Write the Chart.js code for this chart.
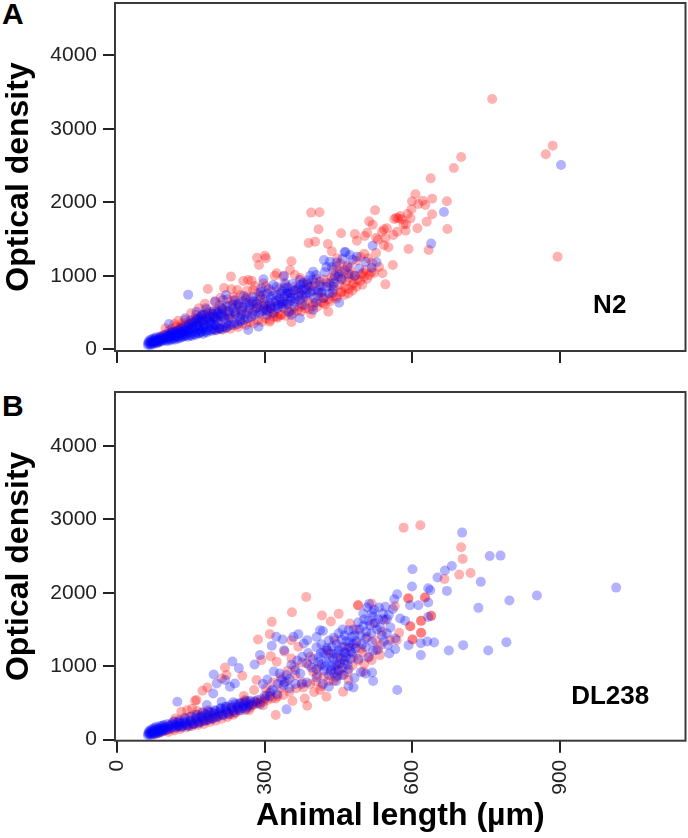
<!DOCTYPE html>
<html><head><meta charset="utf-8">
<script src="https://cdn.jsdelivr.net/npm/chart.js@4/dist/chart.umd.min.js"></script>
<style>html,body{margin:0;padding:0;background:#fff;width:688px;height:838px;overflow:hidden}
canvas{position:absolute;left:0}
.p{position:absolute;left:2px;font:bold 30px "Liberation Sans",Arial,sans-serif;color:#000;line-height:30px}</style>
</head><body>
<div class="p" style="top:-1px">A</div>
<div class="p" style="top:391px">B</div>
<canvas id="a" width="688" height="372" style="top:0"></canvas>
<canvas id="b" width="688" height="458" style="top:380px"></canvas>
<script>
const xTicks=[0,300,600,900];
const yTicks=[0,1000,2000,3000,4000];
const xTitle="Animal length (µm)";
const yTitle="Optical density";
const n2Label="N2", dl238Label="DL238";

const n2Red=[[762,3406],[885,2771],[871,2653],[895,1261],[671,1637],[670,2014],[699,2617],[684,2467],[394,1860],[411,1864],[409,1633],[389,1447],[402,1465],[455,1578],[428,1433],[436,1333],[483,1569],[487,1478],[503,1542],[508,1587],[512,1741],[519,1696],[524,1891],[526,1515],[542,1633],[548,1646],[545,1510],[542,1415],[551,1388],[561,1555],[563,1773],[571,1782],[575,1814],[569,1601],[586,1614],[587,1705],[596,1782],[598,1905],[599,2014],[606,2109],[610,1646],[612,1977],[621,2023],[626,1964],[637,2326],[640,2050],[640,1837],[629,1737],[592,1365],[633,1351],[567,1790],[578,1770],[582,1700],[590,1840],[538,1600],[530,1490],
[284,1247],[300,1274],[288,1147],[302,1238],[354,1197],[351,1079],[361,1011],[324,1034],[320,1002],[231,989],[184,821],[217,834],[256,930],[266,943],[273,934],[244,807],[232,816],[276,807],[297,898],[302,853],[287,762],[337,989],[394,481],[354,372],[429,512],[545,884],[560,1147],[539,1034],[517,1057],[439,1079],[446,1125],[453,1170],[447,1238],[463,1079],[473,1102],[480,898],[470,762],[456,785],[439,807],[398,807],[385,807],[412,875],[415,762],[419,626],[398,626],[378,694],[371,762],[331,467],[310,376],[324,444],[354,535],[371,580],[458,1050],[468,1145],[476,1020],[486,1205],[494,1260],[502,1300],[510,1240],[518,1180],[526,1310],[505,1080],[495,1020],[488,950],[470,975],[455,960],[440,960],[425,905],[405,960],[378,910],[360,850],[345,760],[330,700],[318,640],[305,590],[290,690],[275,610],[262,710],[248,580],[235,660],[222,520],[208,600],[195,480],[182,540],[170,420],[160,470],[150,360],[138,400],[128,300],[116,345],[105,250],[98,285],[88,170],[84,130],[94,195],[112,230],[122,265],[134,320],[146,335],[156,375],[166,390],[178,430],[188,440],[200,450],[212,480],[226,455],[238,500],[252,520],[268,545],[282,560],[296,590],[308,510],[318,500],[338,560],[348,620],[362,680],[375,610],[388,660],[408,720],[420,700],[432,650],[445,720],[462,840],[478,800],[498,880],[508,960],[434,860],[452,880],[372,970],[386,900],[342,870],[328,820],[312,790],[296,740],[280,860],[264,800],[250,740],[238,710],[224,680],[210,700],[198,650],[178,620],[166,560],[150,490],[124,390],[74,90],[78,110],[82,95],[90,150],[100,175],[108,190],[118,215],[128,240],[140,260],[152,290],[164,315],[176,340],[190,365],[204,390],[218,410],[232,420],[246,440],[260,470],[274,480],[290,510],[304,540],
[198,255],[206,285],[214,265],[222,300],[230,280],[238,325],[246,305],[254,350],[262,330],[270,370],[278,350],[286,395],[294,375],[302,420],[310,400],[318,445],[326,430],[334,470],[342,455],[350,500],[358,490],[366,530],[374,515],[382,560],[390,545],[398,590],[406,575],[414,640],[422,610],[430,680],[438,720],[446,690],[454,770],[462,740],[470,820],[478,870],[486,850],[494,930],[502,990],[512,1010],[522,1040],[532,1120],[500,1040],[482,1000],[466,930],[450,1020],[436,980],[420,950],[402,900],[390,850],[368,800],[352,760],[340,650],[326,600],[312,560],[298,640],[284,620],[270,680],[256,650],[242,610],[228,590],[214,560],[202,530],[192,510],[180,480],[172,460],[158,420],[144,370],[132,350],[120,310],[110,280]];

const n2Blue=[[902,2508],[664,1868],[638,1438],[519,1410],[527,1184],[517,1111],[144,744],[105,345],[138,422],[161,512],[180,558],[199,649],[215,671],[221,739],[239,671],[257,726],[263,626],[280,649],[297,952],[293,830],[317,875],[339,1002],[341,898],[334,649],[351,762],[371,943],[378,898],[398,1057],[398,943],[420,1215],[432,1193],[464,1320],[473,1283],[487,1261],[451,635],[483,998],[449,989],[437,771],[432,898],[415,853],[419,694],[398,535],[371,422],[354,467],[371,671],[361,649],[334,580],[317,490],[304,467],[287,308],[266,263],[250,399],[222,354],[195,331],[175,286],[462,1325],[392,1000],[386,880],[376,810],[368,830],[358,800],[345,760],[352,700],[340,720],[330,680],[322,660],[312,700],[300,610],[310,630],[324,740],[334,790],[346,840],[305,760],[290,730],[275,650],[268,560],[255,580],[245,620],[234,610],[226,520],[212,560],[204,490],[196,520],[188,445],[172,470],[165,420],[150,395],[160,385],[240,480],[252,470],[262,490],[278,520],[286,570],[298,550],[312,590],[326,560],[344,610],[360,580],[382,720],[404,640],[410,770],[440,850],[456,950],[470,1020],[425,1120],[442,1000],[395,790],[380,600],[348,510],[228,420],[214,450],[200,400],[186,370],[
62,60],[63,85],[64,110],[65,70],[66,95],[67,130],[68,55],[69,80],[70,105],[71,140],[72,70],[73,95],[74,120],[75,150],[76,85],[77,110],[78,135],[79,165],[80,80],[81,100],[82,125],[84,150],[85,95],[86,120],[87,175],[88,105],[90,135],[91,160],[92,115],[94,140],[95,190],[96,125],[98,155],[99,175],[100,130],[102,210],[103,150],[105,175],[106,140],[108,195],[110,160],[111,225],[113,175],[115,200],[116,150],[118,240],[120,185],[122,215],[124,170],[126,260],[128,200],[130,230],[132,185],[134,280],[136,215],[138,250],[140,200],[142,300],[145,235],[147,270],[150,215],[152,320],[155,250],[157,290],[160,230],[163,340],[165,270],[168,310],[170,245],[172,370],[175,290],[178,330],[180,260],[183,400],[186,310],[190,350],[193,275],[196,440],[200,330],[204,380],[208,290],[212,480],
[101,110],[104,190],[107,120],[109,225],[112,135],[114,240],[117,130],[119,165],[121,250],[123,145],[125,210],[127,155],[129,285],[131,165],[133,235],[135,175],[137,310],[139,185],[141,260],[143,170],[146,340],[148,190],[149,285],[151,180],[153,360],[156,205],[158,320],[159,195],[161,410],[164,215],[166,355],[167,220],[169,440],[171,235],[173,395],[174,210],[176,470],[179,240],[181,420],[182,230],[184,500],[187,260],[189,380],[191,250],[194,480],[197,270],[199,420],[201,260],[205,520],[207,280],[209,450],[211,275],[214,540],[216,300],[218,420],[221,290],[223,590],[226,320],[229,480],[232,330],[235,560],[238,360],[241,500],[244,340],[247,610],[250,380],[254,520],[258,400],[261,680],[265,420],[268,600],[272,440],[276,720],[280,470],[284,620],[288,490],[292,780],[296,520],[300,680],[304,530],[308,820],[312,560],[316,730],[320,580],[324,850],[328,610],[332,760],[336,620],[340,830],[344,640],[348,780],[352,660],[356,890],[360,700],[364,810],[368,720],[372,880],[376,740],[380,830],[384,760],[388,940],[392,770],[396,860],[400,700],[404,1010],[408,800],[412,920],[416,780],[422,1050],[426,850],[430,760],[436,1120],[440,900],[446,1180],[452,1060],[458,1230],[468,1120],[478,1220],[492,1100],[505,1190]];

const dlRed=[[582,2889],[616,2921],[699,2621],[702,2463],[695,2249],[718,2272],[665,2190],[626,1936],[592,1927],[618,1619],[638,1687],[595,1546],[618,1456],[600,1365],[573,1456],[490,1832],[384,1945],[355,1737],[314,1605],[416,1692],[434,1610],[450,1714],[489,1832],[310,1438],[286,1365],[219,984],[222,880],[254,871],[212,834],[183,712],[173,667],[161,540],[158,531],[257,594],[259,540],[278,676],[283,812],[312,1138],[293,1084],[324,1061],[354,1107],[368,1265],[354,1356],[392,1129],[398,925],[356,526],[386,463],[322,336],[381,562],[425,585],[459,653],[412,676],[470,812],[500,925],[534,1152],[517,1084],[554,1356],[568,1356],[544,1628],[564,1818],[591,1923],[625,1936],[638,1687],[617,1619],[596,1546],[617,1456],[600,1365],[517,1855],[520,1583],[473,1583],[432,1175],[442,1356],[425,1220],[340,1200],[332,700],[345,800],[362,880],[376,780],[404,790],[440,800],[450,950],[462,1030],[480,1130],[495,1240],[508,1400],[525,1350],[538,1470],[486,1500],[462,1260],[448,1120],[410,1000],[322,560],[310,640],[296,470],[285,500],[270,510],[258,480],[246,430],[234,400],[222,370],[210,345],[198,320],[186,300],[174,270],[162,250],[150,225],[138,200],[126,175],[114,150],[102,130],[92,110],[84,90],[76,70],[270,440],[260,400],[248,395],[236,340],[224,310],[212,285],[200,260],[188,240],[176,215],[164,200],[152,185],[140,165],[128,145],[116,125],[104,105],[130,380],[118,290],[142,400],[152,420],[162,390],[172,370],[184,400],[194,370],[206,350],[220,420],[232,440],[244,470],[256,510],[268,470],[280,520],[292,550],[304,600],[116,250],[106,200],[96,170],[88,140],[126,240],[136,300],[146,310],[158,340],[168,310],[180,340],
[275,470],[283,490],[290,505],[297,520],[305,540],[314,560],[326,590],[338,610],[350,650],[364,700],[378,710],[392,760],[400,650],[415,730],[430,800],[445,850],[456,880],[468,920],[478,1010],[490,1080],[502,1030],[512,1130],[526,1220],[536,1290],[498,1190],[486,1310],[474,1250],[460,1130],[448,1010],[434,930],[420,860],[406,880],[390,1010],[376,1050],[360,990],[346,940],[332,850],[316,780],[302,700],[268,400],[240,365],[228,340],[194,290],[182,265],[170,240],[158,220],[146,200]];

const dlBlue=[[701,2821],[757,2503],[779,2508],[680,2367],[666,2304],[651,2209],[600,2322],[599,2086],[632,2063],[636,2036],[670,2027],[739,2150],[797,1896],[853,1964],[1014,2072],[734,1796],[569,1982],[563,1914],[632,1868],[612,1832],[595,1832],[791,1329],[754,1215],[703,1288],[674,1215],[644,1324],[630,1338],[617,1315],[617,1152],[592,1288],[569,676],[518,916],[480,712],[632,1673],[565,1233],[553,1175],[565,1379],[234,1066],[196,889],[122,517],[247,975],[202,766],[219,812],[239,766],[229,721],[195,630],[212,517],[182,472],[290,1152],[279,1025],[314,1279],[323,1401],[336,1365],[339,1220],[368,1438],[358,1401],[386,1356],[379,1311],[344,413],[405,1400],[412,1490],[418,1480],[430,1350],[440,1390],[450,1450],[458,1500],[462,1420],[470,1490],[405,1260],[415,1300],[425,1250],[436,1270],[446,1300],[456,1360],[466,1340],[476,1400],[410,1130],[420,1180],[430,1110],[440,1170],[450,1220],[460,1190],[470,1260],[480,1300],[415,1020],[425,1060],[435,1000],[445,1040],[455,1100],[465,1130],[475,1200],[405,960],[420,940],[430,880],[440,910],[450,930],[460,880],[470,960],[482,840],[495,920],[505,900],[520,800],[445,800],[430,720],[418,760],[405,850],[395,980],[385,1040],[372,900],[362,950],[350,830],[340,780],[330,900],[318,930],[305,820],[296,760],[385,780],[375,760],[362,760],[350,700],[338,740],[325,620],[312,660],[300,600],[480,1500],[490,1600],[500,1550],[510,1620],[520,1680],[530,1640],[540,1720],[552,1700],[560,1780],[575,1650],[585,1620],[500,1720],[508,1800],[512,1850],[522,1770],[532,1800],[545,1810],[548,1640],[555,1530],[528,1500],[516,1450],[505,1380],[495,1420],[485,1250],[505,1260],[518,1330],[530,1230],[542,1340],[550,1290],[490,1100],[510,1120],[520,1210],[538,1420],[470,730],[280,520],[268,480],[256,460],[244,445],[232,430],[220,400],[208,380],[196,355],[184,330],[172,300],[160,275],[148,250],[136,225],[124,190],[262,420],[250,400],[238,375],[226,350],[214,330],[202,305],[190,285],[178,260],[166,240],[154,215],[142,195],[130,170],[262,530],[248,490],[236,510],[222,450],[210,420],[198,400],[186,385],[174,370],[162,340],[150,315],[138,290],[126,265],[114,245],[102,215],[92,190],[82,150],[
62,60],[63,85],[64,110],[65,75],[66,100],[67,130],[68,60],[69,85],[70,110],[71,145],[72,70],[73,95],[74,125],[75,160],[76,85],[77,110],[78,140],[79,175],[80,85],[81,105],[82,130],[84,155],[85,95],[86,120],[87,185],[88,105],[90,135],[91,165],[92,120],[94,145],[95,200],[96,125],[98,155],[100,135],[102,175],[105,150],[108,190],[110,160],[112,215],[115,175],[118,205],[120,165],[122,235],[125,190],[128,220],[132,185],[135,250],
[140,230],[145,180],[150,260],[155,210],[160,300],[165,225],[170,320],[175,250],[180,350],[185,270],[190,370],[195,290],[200,395],[205,320],[210,430],[215,340],[220,450],[225,370],[230,470],[235,390],[240,490],[245,410],[250,500],[255,430],[260,510],[265,450],[270,530],[275,480],[285,540],[290,480],[300,560],[310,590],[316,680],[326,760],[334,820],[344,880],[354,1020],[366,1080],[376,1130],[388,1180],[398,1100],[408,1060],[414,1180],[422,1000],[428,1220],[434,950],[438,1120],[442,1000],[446,1170],[448,870],[452,1040],[456,1260],[458,980],[462,1080],[464,1190],[468,1020],[472,1320],[474,1100],[478,1180],[482,1420],[486,1340],[492,1500],[498,1300],[502,1640],[506,1470],[514,1560],[518,1730],[524,1590],[534,1530],[540,1640],[548,1450]];

const pxRed="rgba(255,0,0,0.3)", pxBlue="rgba(0,0,255,0.3)", ink="#222", frame="#3a3a3a";
const family='"Liberation Sans",Arial,sans-serif';

function toPts(arr){return arr.map(p=>({x:p[0],y:p[1]}));}
function noPad(s){s.paddingTop=0;s.paddingBottom=0;s.paddingLeft=0;s.paddingRight=0;}
function panel(id,red,blue,o){
  const framePlugin={id:'frame',afterDatasetsDraw(c){
    const a=c.chartArea,g=c.ctx;g.save();g.strokeStyle=frame;g.lineWidth=2;
    g.strokeRect(a.left,a.top,a.right-a.left,a.bottom-a.top);
    g.fillStyle='#000';g.font='bold 26px '+family;g.textAlign='center';g.textBaseline='middle';
    g.fillText(o.label,c.scales.x.getPixelForValue(o.labelX),c.scales.y.getPixelForValue(o.labelY));
    g.restore();}};
  return new Chart(document.getElementById(id),{type:'scatter',
    data:{datasets:[
      {data:toPts(blue),backgroundColor:pxBlue,borderWidth:0,pointRadius:5},
      {data:toPts(red),backgroundColor:pxRed,borderWidth:0,pointRadius:5}]},
    plugins:[framePlugin],
    options:{responsive:false,animation:false,events:[],
      layout:{autoPadding:false,padding:{top:o.top,right:2.5,left:0,bottom:0}},
      plugins:{legend:{display:false},tooltip:{enabled:false}},
      scales:{
        x:{type:'linear',min:-4.7,max:1155,
          afterBuildTicks(s){s.ticks=xTicks.map(v=>({value:v}));},
          afterFit(s){s.height=o.xH;noPad(s);},
          border:{display:false},
          grid:{drawOnChartArea:false,drawTicks:true,tickLength:12,tickWidth:2,lineWidth:2,tickColor:ink},
          ticks:{display:o.xLabels,autoSkip:false,minRotation:90,maxRotation:90,padding:7,color:ink,font:{family,size:21},callback:v=>String(v)},
          title:{display:o.xLabels,text:xTitle,color:'#000',font:{family,size:32,weight:'bold'},padding:{top:0,bottom:3}}},
        y:{type:'linear',min:o.yMin,max:o.yMax,
          afterBuildTicks(s){s.ticks=yTicks.map(v=>({value:v}));},
          afterFit(s){s.width=115;noPad(s);},
          border:{display:false},
          grid:{drawOnChartArea:false,drawTicks:true,tickLength:12,tickWidth:2,lineWidth:2,tickColor:ink},
          ticks:{padding:6,color:ink,font:{family,size:21},callback:v=>String(v)},
          title:{display:true,text:yTitle,color:'#000',font:{family,size:32,weight:'bold'},padding:{top:0,bottom:0}}}
      }}});
}
panel('a',n2Red,n2Blue,{top:3,xH:21,xLabels:false,yMin:-23,yMax:4712,label:n2Label,labelX:1001,labelY:592});
panel('b',dlRed,dlBlue,{top:12,xH:97.3,xLabels:true,yMin:-14,yMax:4737,label:dl238Label,labelX:1002,labelY:585});
</script>
</body></html>
